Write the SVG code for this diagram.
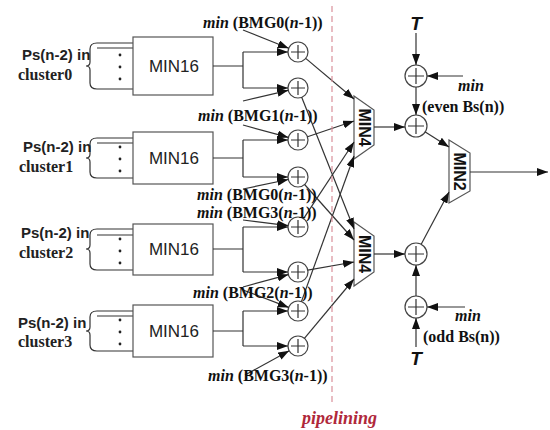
<svg xmlns="http://www.w3.org/2000/svg" width="550" height="430" viewBox="0 0 550 430">
<defs>
<marker id="ah" markerUnits="userSpaceOnUse" markerWidth="11" markerHeight="8" refX="11" refY="4" orient="auto"><path d="M0,0 L11,4 L0,8 z" fill="#111"/></marker>
<style>
.box{fill:#fff;stroke:#555;stroke-width:1.2}
.ln{fill:none;stroke:#333;stroke-width:1.2}
.ar{fill:none;stroke:#333;stroke-width:1.2;marker-end:url(#ah)}
.add{fill:#fff;stroke:#444;stroke-width:1.2}
.m16{font-family:"Liberation Sans",Arial,sans-serif;font-size:17px;fill:#222;text-anchor:middle}
.ps{font-family:"Liberation Sans",Arial,sans-serif;font-size:15px;font-weight:bold;fill:#222}
.cl{font-family:"Liberation Serif","Times New Roman",serif;font-size:16px;font-weight:bold;fill:#222}
.bm{font-family:"Liberation Serif","Times New Roman",serif;font-size:16px;font-weight:bold;fill:#111}
.it{font-style:italic}
.mn{font-family:"Liberation Sans",Arial,sans-serif;font-size:16px;font-weight:bold;fill:#111;text-anchor:middle}
.tt{font-family:"Liberation Sans",Arial,sans-serif;font-size:19px;font-weight:bold;font-style:italic;fill:#111;text-anchor:middle}
</style>
</defs>
<rect width="550" height="430" fill="#fff"/>

<!-- MIN16 blocks -->
<g id="min16-0">
<path class="ln" d="M97,43 H133 M97,48 H133 M97,89 H133 M97,43 Q90,43 90,49 L90,62 Q90,66 86,66 Q90,66 90,70 L90,83 Q90,89 97,89"/>
<circle cx="120" cy="55" r="1.4" fill="#222"/><circle cx="120" cy="67" r="1.4" fill="#222"/><circle cx="120" cy="79" r="1.4" fill="#222"/>
<rect class="box" x="133" y="37" width="80" height="58"/>
<text class="m16" x="174" y="72">MIN16</text>
<text class="ps" x="22" y="60">Ps(n-2) in</text>
<text class="cl" x="18" y="80">cluster0</text>
</g>
<g id="min16-1">
<path class="ln" d="M97,138 H133 M97,143 H133 M97,178 H133 M97,138 Q90,138 90,144 L90,154 Q90,158 86,158 Q90,158 90,162 L90,172 Q90,178 97,178"/>
<circle cx="120" cy="147" r="1.4" fill="#222"/><circle cx="120" cy="159" r="1.4" fill="#222"/><circle cx="120" cy="171" r="1.4" fill="#222"/>
<rect class="box" x="133" y="132" width="80" height="52"/>
<text class="m16" x="174" y="164">MIN16</text>
<text class="ps" x="23" y="152">Ps(n-2) in</text>
<text class="cl" x="19" y="172">cluster1</text>
</g>
<g id="min16-2">
<path class="ln" d="M97,229 H133 M97,235 H133 M97,270 H133 M97,229 Q90,229 90,235 L90,245 Q90,249 86,249 Q90,249 90,253 L90,264 Q90,270 97,270"/>
<circle cx="120" cy="239" r="1.4" fill="#222"/><circle cx="120" cy="251" r="1.4" fill="#222"/><circle cx="120" cy="263" r="1.4" fill="#222"/>
<rect class="box" x="133" y="224" width="80" height="51"/>
<text class="m16" x="174" y="255">MIN16</text>
<text class="ps" x="21" y="238">Ps(n-2) in</text>
<text class="cl" x="19" y="258">cluster2</text>
</g>
<g id="min16-3">
<path class="ln" d="M97,311 H133 M97,316 H133 M97,351 H133 M97,311 Q90,311 90,317 L90,327 Q90,331 86,331 Q90,331 90,335 L90,345 Q90,351 97,351"/>
<circle cx="120" cy="320" r="1.4" fill="#222"/><circle cx="120" cy="332" r="1.4" fill="#222"/><circle cx="120" cy="344" r="1.4" fill="#222"/>
<rect class="box" x="133" y="305" width="80" height="52"/>
<text class="m16" x="174" y="337">MIN16</text>
<text class="ps" x="18" y="328">Ps(n-2) in</text>
<text class="cl" x="18" y="347">cluster3</text>
</g>

<!-- adders -->
<g id="adders">
<g id="a1"><circle class="add" cx="298" cy="52" r="10"/><path class="ln" d="M291,52 H305 M298,45 V59"/></g>
<g id="a2"><circle class="add" cx="298" cy="88" r="10"/><path class="ln" d="M291,88 H305 M298,81 V95"/></g>
<g id="a3"><circle class="add" cx="298" cy="140" r="10"/><path class="ln" d="M291,140 H305 M298,133 V147"/></g>
<g id="a4"><circle class="add" cx="298" cy="177" r="10"/><path class="ln" d="M291,177 H305 M298,170 V184"/></g>
<g id="a5"><circle class="add" cx="298" cy="227" r="10"/><path class="ln" d="M291,227 H305 M298,220 V234"/></g>
<g id="a6"><circle class="add" cx="298" cy="272" r="10"/><path class="ln" d="M291,272 H305 M298,265 V279"/></g>
<g id="a7"><circle class="add" cx="298" cy="311" r="10"/><path class="ln" d="M291,311 H305 M298,304 V318"/></g>
<g id="a8"><circle class="add" cx="298" cy="346" r="10"/><path class="ln" d="M291,346 H305 M298,339 V353"/></g>
<g id="ta1"><circle class="add" cx="416" cy="76" r="11"/><path class="ln" d="M408,76 H424 M416,68 V84"/></g>
<g id="ta2"><circle class="add" cx="416" cy="126" r="11"/><path class="ln" d="M408,126 H424 M416,118 V134"/></g>
<g id="ba1"><circle class="add" cx="416" cy="254" r="11"/><path class="ln" d="M408,254 H424 M416,246 V262"/></g>
<g id="ba2"><circle class="add" cx="416" cy="307" r="11"/><path class="ln" d="M408,307 H424 M416,299 V315"/></g>
</g>

<!-- MIN4 / MIN2 -->
<g id="min4-top">
<path class="box" d="M354,96 L374,110 L374,145 L354,159 Z"/>
<text class="mn" transform="translate(364,127.5) rotate(90)" dominant-baseline="central">MIN4</text>
</g>
<g id="min4-bottom">
<path class="box" d="M354,222 L374,236 L374,272 L354,286 Z"/>
<text class="mn" transform="translate(364,254) rotate(90)" dominant-baseline="central">MIN4</text>
</g>
<g id="min2">
<path class="box" d="M449,140 L470,153 L470,191 L449,203 Z"/>
<text class="mn" transform="translate(459.5,171.5) rotate(90)" dominant-baseline="central">MIN2</text>
</g>

<!-- connectors -->
<g id="connectors">
<path class="ln" d="M213,66 H243 M243,52 V88 M213,158 H243 M243,140 V177 M213,249 H243 M243,227 V272 M213,331 H243 M243,311 V346"/>
<path class="ar" d="M243,52 H288"/><path class="ar" d="M243,88 H288"/>
<path class="ar" d="M243,140 H288"/><path class="ar" d="M243,177 H288"/>
<path class="ar" d="M243,227 H288"/><path class="ar" d="M243,272 H288"/>
<path class="ar" d="M243,311 H288"/><path class="ar" d="M243,346 H288"/>
<path class="ar" d="M243,30 L288.7,48.3"/>
<path class="ar" d="M243,101 L288.3,90.3"/>
<path class="ar" d="M243,125 L288.4,137.4"/>
<path class="ar" d="M243,189 L288.3,179.5"/>
<path class="ar" d="M243,220 L288.1,225.6"/>
<path class="ar" d="M243,287 L288.4,274.6"/>
<path class="ar" d="M243,290 L288.7,307.4"/>
<path class="ar" d="M245,375 L289.2,350.8"/>
<path class="ar" d="M305.7,58.4 L354,99"/>
<path class="ar" d="M307.5,136.8 L354,121"/>
<path class="ar" d="M303.5,218.6 L354,142"/>
<path class="ar" d="M301.4,301.6 L354,156"/>
<path class="ar" d="M301.7,97.3 L354,229"/>
<path class="ar" d="M304.6,184.5 L354,240"/>
<path class="ar" d="M307.8,270.2 L354,262"/>
<path class="ar" d="M304.4,338.3 L354,279"/>
<path class="ar" d="M374,127 H405"/>
<path class="ar" d="M374,254 H405"/>
<path class="ar" d="M416,33 V65"/>
<path class="ar" d="M463,76 H427"/>
<path class="ar" d="M416,87 V115"/>
<path class="ar" d="M425.3,131.9 L449,147"/>
<path class="ar" d="M416,347 V318"/>
<path class="ar" d="M465,307 H427"/>
<path class="ar" d="M416,296 V265"/>
<path class="ar" d="M421.2,244.3 L449,192"/>
<path class="ar" d="M470,172 H548"/>
</g>

<!-- pipelining -->
<line x1="332" y1="6" x2="332" y2="405" stroke="#d9909a" stroke-width="1.2" stroke-dasharray="6,4"/>
<text x="302" y="424" font-family="'Liberation Serif','Times New Roman',serif" font-size="18" font-weight="bold" font-style="italic" fill="#b0283a">pipelining</text>

<!-- labels -->
<g id="labels">
<text class="bm" x="203" y="28"><tspan class="it">min</tspan> (BMG0(<tspan class="it">n</tspan>-1))</text>
<text class="bm" x="198" y="121"><tspan class="it">min</tspan> (BMG1(<tspan class="it">n</tspan>-1))</text>
<text class="bm" x="197" y="200"><tspan class="it">min</tspan> (BMG0(<tspan class="it">n</tspan>-1))</text>
<text class="bm" x="197" y="218"><tspan class="it">min</tspan> (BMG3(<tspan class="it">n</tspan>-1))</text>
<text class="bm" x="193" y="298"><tspan class="it">min</tspan> (BMG2(<tspan class="it">n</tspan>-1))</text>
<text class="bm" x="208" y="381"><tspan class="it">min</tspan> (BMG3(<tspan class="it">n</tspan>-1))</text>
<text class="tt" x="416" y="30">T</text>
<text class="bm it" x="458" y="91">min</text>
<text class="bm" x="422" y="112">(even Bs(n))</text>
<text class="bm it" x="455" y="321">min</text>
<text class="bm" x="423" y="342">(odd Bs(n))</text>
<text class="tt" x="416" y="365">T</text>
</g>
</svg>
